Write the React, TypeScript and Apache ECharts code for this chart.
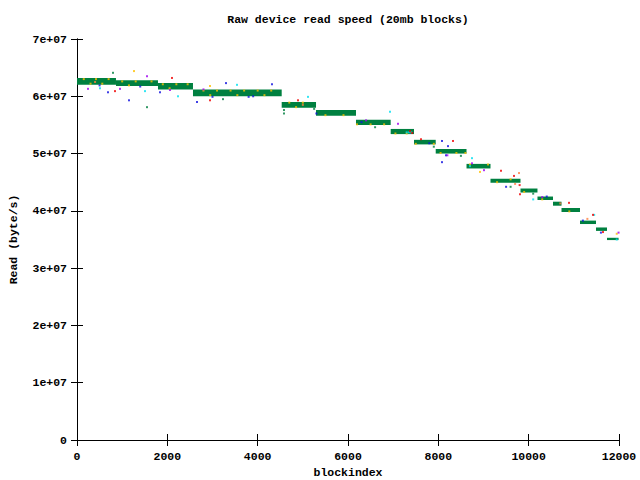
import React, { useEffect, useRef } from "react";
import * as echarts from "echarts";

// Step segments (blockindex range and read-speed band)
const segStart = [0, 863, 1793, 2568, 4532, 5292, 6177, 6945, 7461, 7942, 8624, 9155, 9819, 10195, 10539, 10727, 11137, 11491, 11734];
const segEnd = [863, 1793, 2568, 4532, 5292, 6177, 6945, 7461, 7942, 8624, 9155, 9819, 10195, 10539, 10727, 11137, 11491, 11734, 11990];
const segHigh = [6.32e7, 6.28e7, 6.23e7, 6.12e7, 5.9e7, 5.76e7, 5.59e7, 5.43e7, 5.24e7, 5.08e7, 4.82e7, 4.56e7, 4.39e7, 4.25e7, 4.16e7, 4.05e7, 3.83e7, 3.71e7, 3.53e7];
const segLow = [6.2e7, 6.18e7, 6.12e7, 6.0e7, 5.8e7, 5.66e7, 5.5e7, 5.34e7, 5.16e7, 5.0e7, 4.74e7, 4.49e7, 4.32e7, 4.19e7, 4.09e7, 3.98e7, 3.77e7, 3.65e7, 3.49e7];

// scattered samples of the other runs
const yellowPts: [number, number][] = [
  [150, 6.3e7], [420, 6.3e7], [700, 6.3e7], [300, 6.22e7], [560, 6.22e7],
  [1000, 6.26e7], [1300, 6.26e7], [1650, 6.26e7], [1150, 6.19e7], [1262, 6.44e7],
  [1900, 6.21e7], [2200, 6.21e7], [2450, 6.21e7], [2050, 6.14e7], [2945, 6.18e7],
  [2800, 6.1e7], [3100, 6.1e7], [3400, 6.1e7], [3700, 6.1e7], [4000, 6.1e7], [4300, 6.1e7],
  [2950, 6.02e7], [3550, 6.02e7], [4150, 6.02e7],
  [4700, 5.89e7], [5000, 5.89e7], [4850, 5.81e7], [5500, 5.67e7], [5900, 5.67e7],
  [6200, 5.51e7], [6500, 5.51e7], [6800, 5.51e7], [7050, 5.35e7], [7300, 5.35e7],
  [7500, 5.17e7], [7900, 5.17e7], [8050, 5.01e7], [8400, 5.01e7], [8600, 5.01e7],
  [8700, 4.81e7], [9100, 4.81e7], [8922, 4.68e7], [9300, 4.5e7], [9600, 4.55e7],
  [9900, 4.33e7], [10300, 4.2e7], [10900, 3.99e7], [11950, 3.6e7],
];
const bluePts: [number, number][] = [
  [1151, 5.93e7], [686, 6.07e7], [1838, 6.07e7], [2657, 5.9e7], [3299, 6.23e7], [4317, 6.21e7],
  [8081, 5.22e7], [8214, 5.13e7], [8081, 4.85e7], [8170, 4.97e7], [9500, 4.42e7], [11600, 3.62e7],
  [3900, 6.0e7], [5300, 5.7e7], [500, 6.19e7], [1400, 6.17e7], [3000, 5.99e7], [3800, 5.99e7],
  [10400, 4.25e7], [11200, 3.83e7], [6300, 5.55e7], [7800, 5.18e7],
];
const cyanPts: [number, number][] = [
  [509, 6.14e7], [1505, 6.09e7], [2236, 6.0e7], [3542, 6.2e7], [5114, 5.99e7], [6930, 5.73e7],
  [8745, 4.92e7], [8700, 4.78e7], [11450, 3.93e7], [7300, 5.37e7], [7400, 5.37e7], [7350, 5.37e7],
  [10100, 4.2e7], [11950, 3.5e7],
];
const magentaPts: [number, number][] = [
  [243, 6.13e7], [952, 6.13e7], [1550, 6.35e7], [2059, 6.11e7], [7107, 5.52e7], [9011, 4.71e7],
  [8745, 4.83e7], [10300, 4.24e7], [11990, 3.62e7], [2800, 6.12e7], [6400, 5.58e7], [8200, 4.97e7],
];
const redPts: [number, number][] = [
  [841, 6.09e7], [2103, 6.32e7], [2945, 5.93e7], [4893, 5.93e7], [7373, 5.39e7], [7616, 5.25e7],
  [8325, 5.22e7], [9387, 4.7e7], [9675, 4.61e7], [9808, 4.29e7], [10893, 4.14e7], [11424, 3.93e7],
  [11646, 3.63e7], [9800, 4.45e7], [7420, 5.36e7],
];
const orangePts: [number, number][] = [
  [9786, 4.66e7], [9700, 4.47e7], [11300, 3.86e7], [5000, 5.85e7], [400, 6.25e7], [10700, 4.13e7],
];
const greenPts: [number, number][] = [
  [1550, 5.81e7], [797, 6.41e7], [3232, 5.95e7], [4583, 5.76e7], [4583, 5.7e7], [6600, 5.46e7],
  [8500, 4.96e7], [9600, 4.42e7], [10100, 4.3e7], [11000, 4.02e7], [5250, 5.78e7], [7900, 5.12e7],
];

const FONT = '"Liberation Mono", "DejaVu Sans Mono", monospace';

export default function App() {
  const ref = useRef<HTMLDivElement>(null);
  useEffect(() => {
    if (!ref.current) return;
    const chart = echarts.init(ref.current, null, { renderer: "svg" });
    const bands = segStart.map((s, i) => [s, segEnd[i], segLow[i], segHigh[i]]);
    const scatter = (data: [number, number][], color: string) => ({
      type: "scatter",
      data,
      symbol: "rect",
      symbolSize: 2,
      itemStyle: { color },
      z: 3,
    });
    const axisLine = { show: true, lineStyle: { color: "#000", width: 1 } };
    const tick = { show: true, inside: true, length: 6, lineStyle: { color: "#000" } };
    const labelStyle = { color: "#000", fontFamily: FONT, fontWeight: "bold" as const, fontSize: 11.5 };
    chart.setOption({
      animation: false,
      backgroundColor: "#fff",
      grid: { left: 77, top: 39, width: 542, height: 401, containLabel: false, outerBoundsMode: "none" },
      graphic: [
        {
          type: "text",
          x: 348,
          y: 19,
          style: {
            text: "Raw device read speed (20mb blocks)",
            textAlign: "center",
            textVerticalAlign: "middle",
            font: `bold 11.5px ${FONT}`,
            fill: "#000",
          },
        },
      ],
      xAxis: [
        {
          type: "value",
          min: 0,
          max: 12000,
          interval: 2000,
          position: "bottom",
          axisLine,
          axisTick: tick,
          splitLine: { show: false },
          axisLabel: { ...labelStyle, margin: 10, formatter: (v: number) => String(v) },
          name: "blockindex",
          nameLocation: "middle",
          nameGap: 26,
          nameMoveOverlap: false,
          nameTextStyle: labelStyle,
        },
        {
          type: "value",
          min: 0,
          max: 12000,
          interval: 2000,
          position: "top",
          axisLine,
          axisTick: tick,
          splitLine: { show: false },
          axisLabel: { show: false },
        },
      ],
      yAxis: [
        {
          type: "value",
          min: 0,
          max: 7e7,
          interval: 1e7,
          position: "left",
          axisLine,
          axisTick: tick,
          splitLine: { show: false },
          axisLabel: {
            ...labelStyle,
            margin: 10,
            formatter: (v: number) => (v === 0 ? "0" : `${Math.round(v / 1e7)}e+07`),
          },
          name: "Read (byte/s)",
          nameLocation: "middle",
          nameGap: 58,
          nameMoveOverlap: false,
          nameRotate: 90,
          nameTextStyle: labelStyle,
        },
        {
          type: "value",
          min: 0,
          max: 7e7,
          interval: 1e7,
          position: "right",
          axisLine,
          axisTick: tick,
          splitLine: { show: false },
          axisLabel: { show: false },
        },
      ],
      series: [
        scatter(yellowPts, "#ffc000"),
        scatter(bluePts, "#1010e0"),
        scatter(cyanPts, "#00e0f0"),
        scatter(magentaPts, "#a000f0"),
        scatter(redPts, "#f00000"),
        scatter(orangePts, "#ff8040"),
        scatter(greenPts, "#008040"),
        {
          type: "custom",
          data: bands,
          z: 2,
          renderItem: (params: any, api: any) => {
            const p1 = api.coord([api.value(0), api.value(3)]);
            const p2 = api.coord([api.value(1), api.value(2)]);
            return {
              type: "rect",
              shape: { x: p1[0], y: p1[1], width: p2[0] - p1[0], height: p2[1] - p1[1] },
              style: { fill: "#008040" },
            };
          },
          encode: { x: [0, 1], y: [2, 3] },
        },
      ],
    });
    return () => chart.dispose();
  }, []);
  return (
    <div
      ref={ref}
      style={{ position: "fixed", left: 0, top: 0, width: 640, height: 480, background: "#fff" }}
    />
  );
}
